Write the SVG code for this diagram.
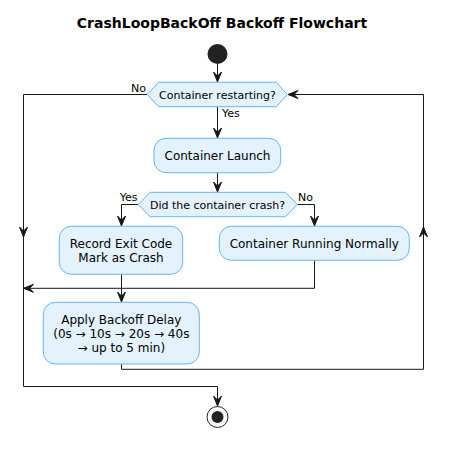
<svg xmlns="http://www.w3.org/2000/svg" width="473" height="453" viewBox="0 0 473 453">
<style>
.box{fill:#E3F2FD;stroke:#64B5F6;stroke-width:1}
.t{font-family:"DejaVu Sans",sans-serif;font-size:12px;fill:#000;text-anchor:middle}
.d{font-family:"DejaVu Sans",sans-serif;font-size:11px;fill:#000;text-anchor:middle}
.l{font-family:"DejaVu Sans",sans-serif;font-size:11px;fill:#000}
.ln{fill:none;stroke:#181818;stroke-width:1}
.ah{fill:#181818;stroke:#181818;stroke-width:1}
</style>
<defs>
<path id="ah" d="M0,0 L-10,-4 L-6,0 L-10,4 Z"/>
</defs>
<rect width="473" height="453" fill="#fff"/>
<text x="222" y="28" font-family="DejaVu Sans,sans-serif" font-size="14" font-weight="bold" text-anchor="middle">CrashLoopBackOff Backoff Flowchart</text>
<g id="connectors">
<path class="ln" d="M217.5,64 V82"/>
<path class="ln" d="M217.5,106.7 V138"/>
<path class="ln" d="M217.5,172.7 V192"/>
<path class="ln" d="M138.3,204.5 H121.5 V226"/>
<path class="ln" d="M297.3,204.5 H314.5 V226"/>
<path class="ln" d="M147.3,94.5 H23.5 V386.5 H217.5 V406"/>
<path class="ln" d="M314.5,260.3 V288.3 H23.5"/>
<path class="ln" d="M121.5,274.3 V302"/>
<path class="ln" d="M121.5,364 V369.3 H423.5 V94.5 H288"/>
<g class="ah">
<use href="#ah" transform="translate(217.5,82) rotate(90)"/>
<use href="#ah" transform="translate(217.5,138) rotate(90)"/>
<use href="#ah" transform="translate(217.5,192) rotate(90)"/>
<use href="#ah" transform="translate(121.5,226) rotate(90)"/>
<use href="#ah" transform="translate(314.5,226) rotate(90)"/>
<use href="#ah" transform="translate(23.5,237) rotate(90)"/>
<use href="#ah" transform="translate(423.5,227) rotate(-90)"/>
<use href="#ah" transform="translate(23.5,288.3) rotate(180)"/>
<use href="#ah" transform="translate(121.5,302) rotate(90)"/>
<use href="#ah" transform="translate(288,94.5) rotate(180)"/>
<use href="#ah" transform="translate(217.5,406) rotate(90)"/>
</g>
<text class="l" x="146" y="92" text-anchor="end">No</text>
<text class="l" x="222" y="117">Yes</text>
<text class="l" x="137.5" y="201" text-anchor="end">Yes</text>
<text class="l" x="298" y="201">No</text>
</g>
<g id="start"><circle cx="217.5" cy="54" r="10" fill="#222"/></g>
<g id="dec1">
<polygon class="box" points="147.3,94.5 158.5,82.3 276.3,82.3 287.3,94.5 276.3,106.7 158.5,106.7"/>
<text class="d" x="217.5" y="98.5">Container restarting?</text>
</g>
<g id="launch">
<rect class="box" x="154" y="138.3" width="126.7" height="34.4" rx="12"/>
<text class="t" x="217.5" y="160">Container Launch</text>
</g>
<g id="dec2">
<polygon class="box" points="138.3,204.5 150,192.3 285.5,192.3 297.3,204.5 285.5,216.7 150,216.7"/>
<text class="d" x="217.5" y="208.5">Did the container crash?</text>
</g>
<g id="record">
<rect class="box" x="59.3" y="226.3" width="123.4" height="48" rx="12"/>
<text class="t" x="121" y="248">Record Exit Code</text>
<text class="t" x="121" y="262">Mark as Crash</text>
</g>
<g id="running">
<rect class="box" x="219.3" y="226.3" width="190" height="34" rx="12"/>
<text class="t" x="314.3" y="248">Container Running Normally</text>
</g>
<g id="apply">
<rect class="box" x="43.3" y="302.3" width="156" height="61.7" rx="12"/>
<text class="t" x="121.3" y="324">Apply Backoff Delay</text>
<text class="t" x="121.3" y="338">(0s → 10s → 20s → 40s</text>
<text class="t" x="121.3" y="352">→ up to 5 min)</text>
</g>
<g id="end">
<circle cx="217.5" cy="417" r="10.5" fill="none" stroke="#222" stroke-width="1"/>
<circle cx="217.5" cy="417" r="6" fill="#222"/>
</g>
</svg>
